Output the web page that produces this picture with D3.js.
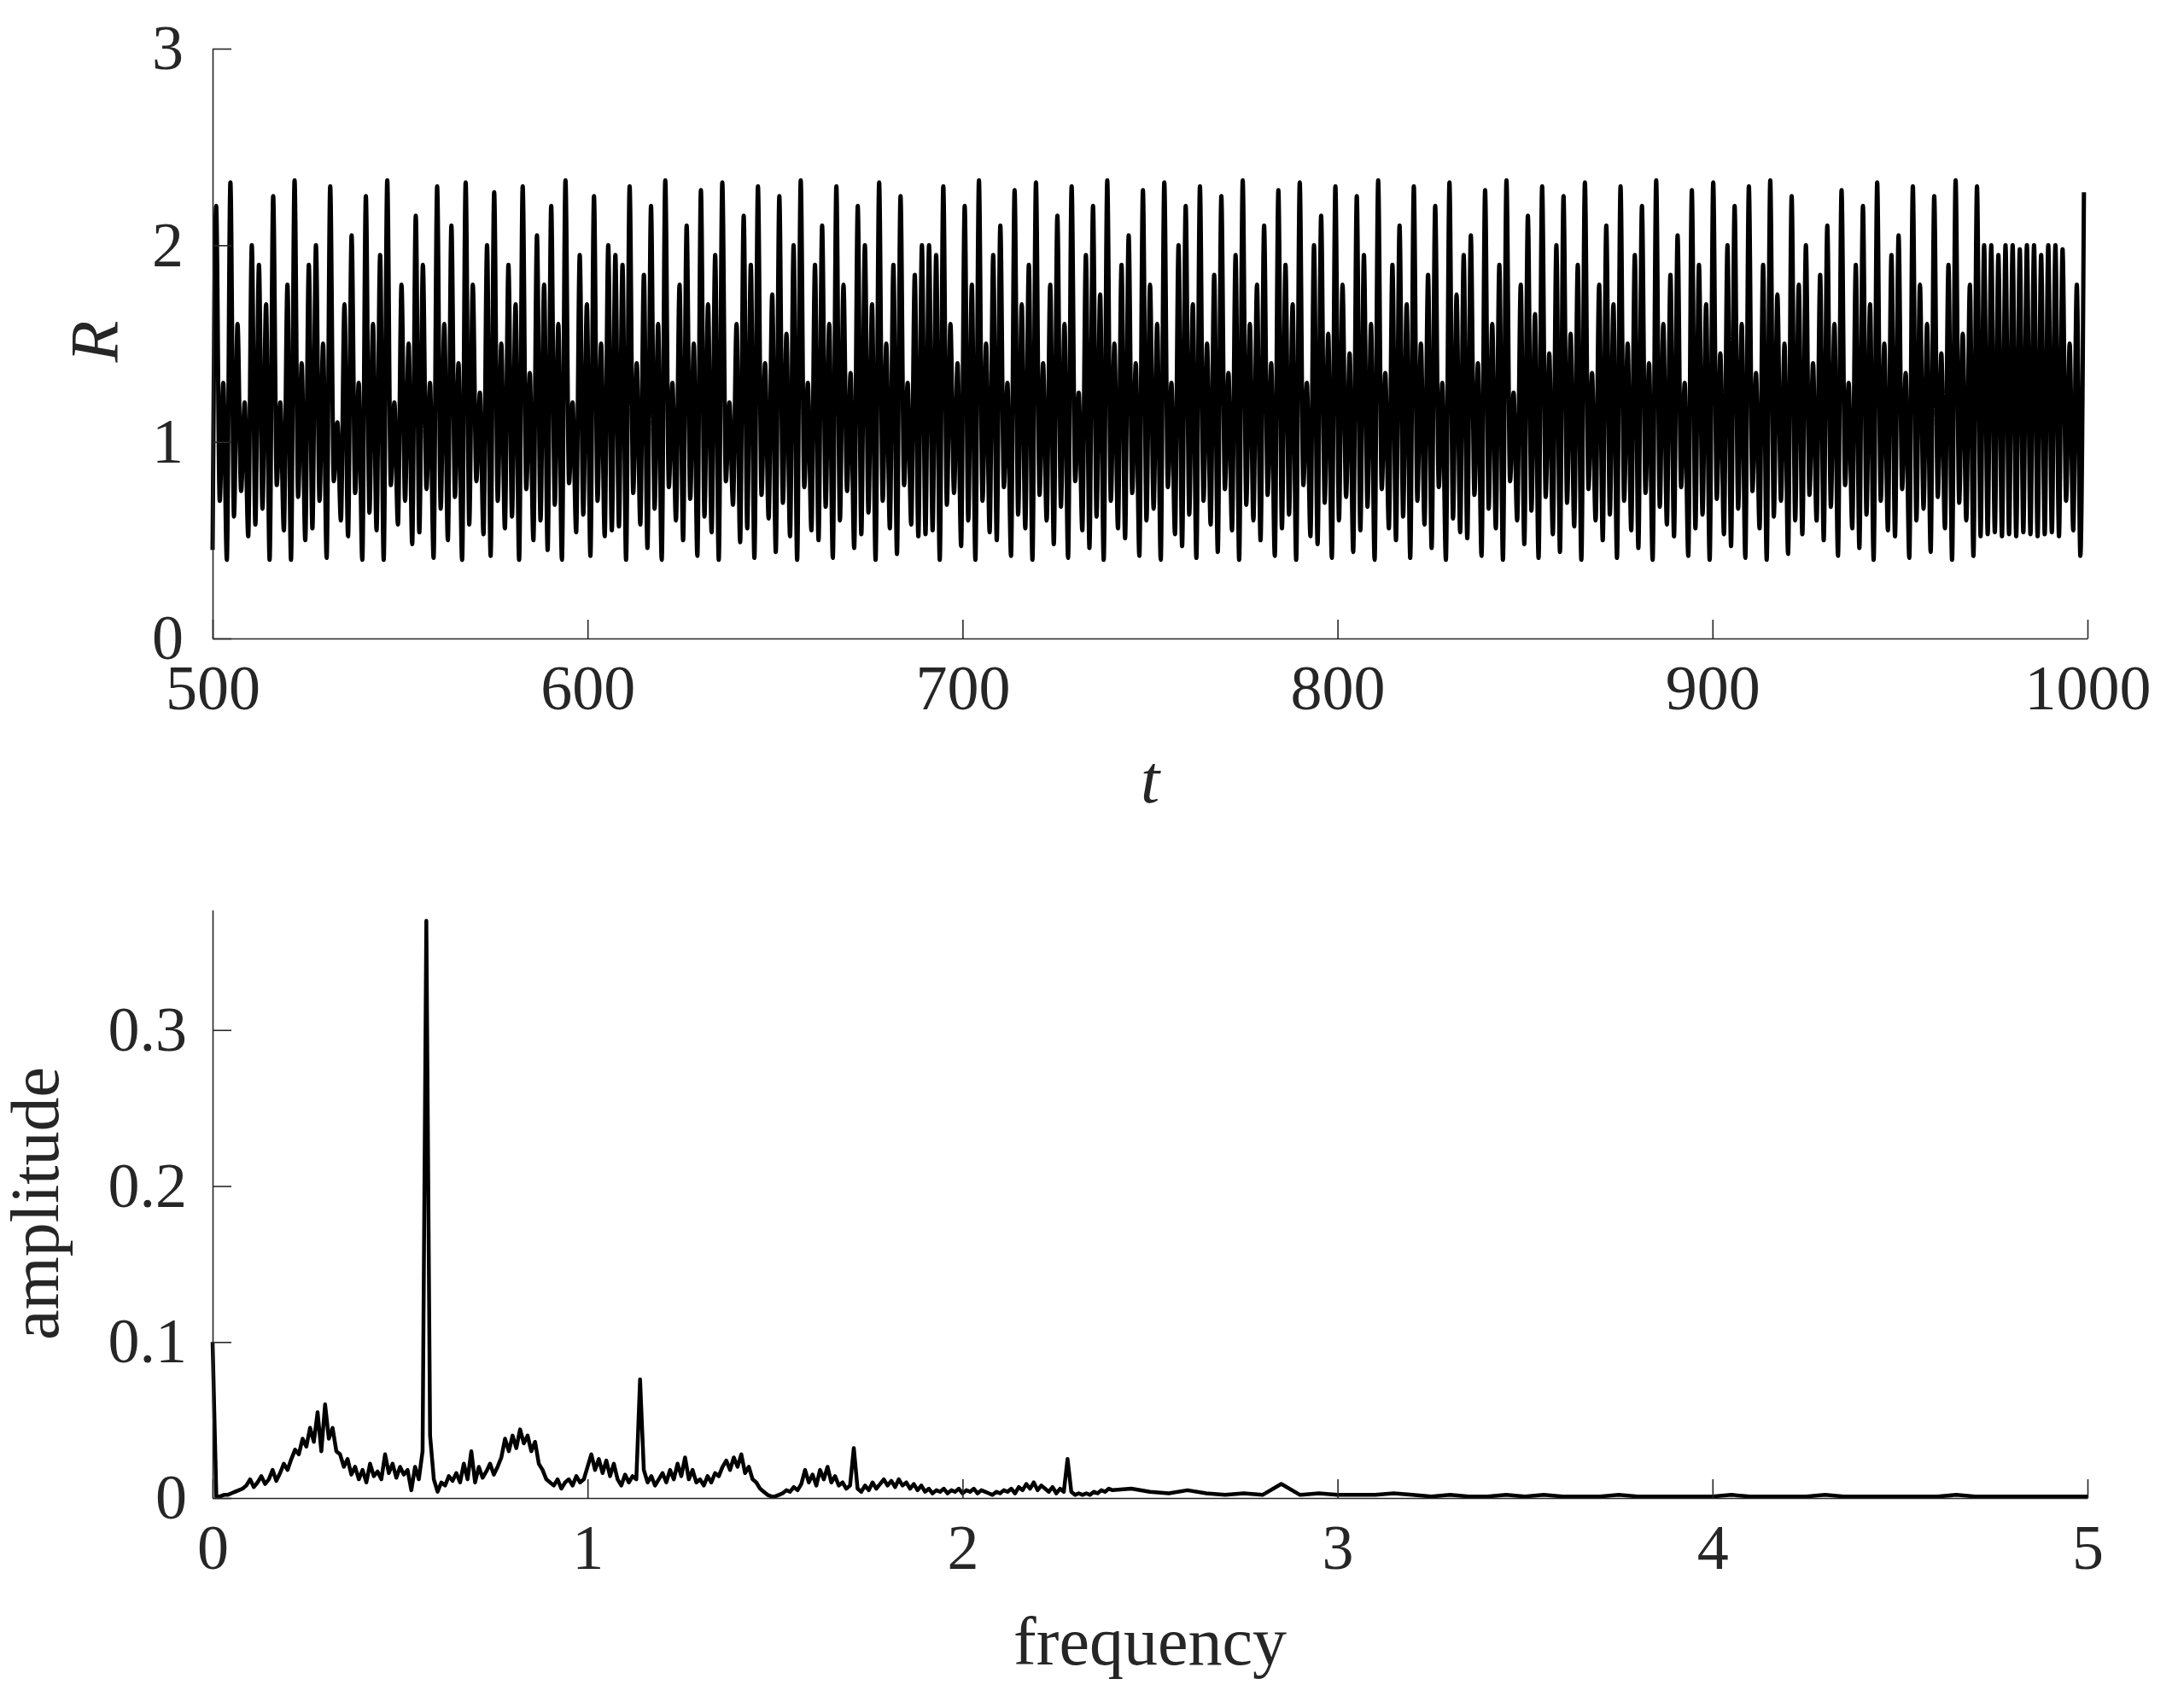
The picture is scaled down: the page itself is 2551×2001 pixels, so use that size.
<!DOCTYPE html>
<html>
<head>
<meta charset="utf-8">
<script src="https://cdn.jsdelivr.net/npm/d3@7"></script>
<style>
  body { margin: 0; background: #fff; }
  text { font-family: "Liberation Serif", "DejaVu Serif", serif; fill: #262626; }
</style>
</head>
<body>
<svg id="chart" width="2551" height="2001"></svg>
<script>
// time series: successive maxima and minima of R, t from 500 to 1000
const peaks = [
  2.2,1.3,2.32,1.6,1.2,2.0,1.9,1.7,2.25,1.2,1.8,2.33,
  1.4,1.9,2.0,1.5,2.3,1.1,1.7,2.05,1.3,2.25,1.6,1.95,
  2.33,1.2,1.8,1.5,2.15,1.9,1.3,2.3,1.6,2.1,1.4,2.32,
  1.8,1.25,2.0,2.27,1.5,1.9,1.7,2.3,1.35,2.05,1.8,2.2,
  1.6,2.33,1.2,1.95,1.7,2.25,1.5,2.0,1.95,1.9,2.3,1.4,
  1.85,2.2,1.6,2.33,1.3,1.8,2.1,1.5,2.28,1.7,1.95,2.32,
  1.2,1.6,2.15,1.9,2.3,1.4,1.75,2.25,1.55,2.0,2.33,1.3,
  1.9,2.1,1.6,2.3,1.8,1.35,2.2,2.0,1.7,2.32,1.5,1.9,
  2.25,1.3,1.85,2.0,2.0,1.95,2.3,1.6,1.4,2.2,1.8,2.33,
  1.5,1.95,2.1,1.3,2.28,1.7,1.9,2.32,1.4,1.8,2.15,1.6,
  2.3,1.25,1.95,2.2,1.75,2.33,1.5,1.9,2.05,1.4,2.28,1.8,
  1.6,2.32,1.3,2.0,2.2,1.7,2.3,1.5,1.85,2.25,1.35,1.95,
  2.33,1.6,1.8,2.1,1.4,2.28,1.9,1.7,2.32,1.3,2.0,2.15,
  1.55,2.3,1.8,1.45,2.25,1.95,1.6,2.33,1.35,1.9,2.1,1.7,
  2.3,1.5,1.85,2.2,1.3,2.32,1.75,1.95,2.05,1.4,2.28,1.6,
  1.9,2.33,1.25,1.8,2.15,1.65,2.3,1.45,2.0,2.25,1.55,1.9,
  2.32,1.35,1.8,2.1,1.7,2.3,1.5,1.95,2.2,1.4,2.33,1.6,
  1.85,2.05,1.3,2.28,1.9,1.7,2.32,1.45,2.0,2.2,1.6,2.3,
  1.35,1.9,2.33,1.75,1.5,2.25,1.8,2.0,
  1.4,1.85,2.1,1.6,2.28,1.3,1.9,2.2,1.7,2.32,1.5,1.95,
  2.05,1.35,2.3,1.8,1.6,2.25,1.45,1.9,2.33,1.55,1.8,2.3,
  2.0,2.0,1.95,2.0,2.0,1.98,2.0,2.0,1.95,2.0,2.0,1.98,
  1.5,1.8,2.27
];
const troughs = [
  0.45,0.7,0.4,0.62,0.75,0.52,0.58,0.66,0.4,0.78,0.55,0.4,
  0.72,0.5,0.56,0.7,0.41,0.8,0.6,0.52,0.74,0.4,0.64,0.55,
  0.4,0.78,0.58,0.7,0.48,0.54,0.76,0.41,0.66,0.5,0.72,0.4,
  0.58,0.8,0.53,0.42,0.7,0.56,0.62,0.4,0.76,0.5,0.6,0.45,
  0.68,0.4,0.79,0.54,0.63,0.42,0.7,0.52,0.55,0.57,0.4,0.74,
  0.58,0.46,0.66,0.4,0.77,0.6,0.5,0.71,0.42,0.62,0.54,0.4,
  0.8,0.68,0.49,0.56,0.41,0.73,0.61,0.44,0.69,0.52,0.4,0.77,
  0.55,0.5,0.67,0.41,0.6,0.75,0.46,0.53,0.64,0.4,0.7,0.56,
  0.43,0.78,0.58,0.52,0.53,0.55,0.4,0.68,0.74,0.47,0.6,0.4,
  0.7,0.54,0.5,0.77,0.42,0.63,0.56,0.4,0.73,0.6,0.48,0.67,
  0.41,0.8,0.55,0.46,0.62,0.4,0.7,0.56,0.51,0.74,0.42,0.6,
  0.66,0.4,0.77,0.53,0.47,0.63,0.41,0.7,0.58,0.44,0.76,0.55,
  0.4,0.68,0.6,0.5,0.73,0.42,0.56,0.63,0.4,0.78,0.52,0.48,
  0.69,0.41,0.6,0.72,0.44,0.55,0.67,0.4,0.76,0.56,0.5,0.62,
  0.41,0.7,0.58,0.46,0.77,0.4,0.61,0.54,0.51,0.73,0.42,0.66,
  0.56,0.4,0.8,0.6,0.48,0.65,0.41,0.72,0.53,0.44,0.69,0.57,
  0.4,0.76,0.6,0.5,0.63,0.41,0.7,0.55,0.46,0.74,0.4,0.67,
  0.58,0.52,0.77,0.42,0.56,0.63,0.4,0.71,0.53,0.47,0.66,0.41,
  0.75,0.56,0.4,0.62,0.7,0.43,0.6,0.53,
  0.73,0.6,0.5,0.67,0.42,0.78,0.56,0.46,0.63,0.4,0.7,0.55,
  0.52,0.76,0.41,0.6,0.66,0.44,0.72,0.56,0.4,0.69,0.6,0.42,
  0.52,0.53,0.54,0.52,0.53,0.52,0.54,0.53,0.52,0.53,0.54,0.52,
  0.7,0.55,0.42
];

// amplitude spectrum: 0.00..2.40 step 0.01, then 2.45..5.00 step 0.05
const ampFine = [
  0.100,0.001,0.001,0.002,0.002,0.003,0.004,0.005,0.006,0.008,0.012,
  0.007,0.010,0.014,0.009,0.012,0.018,0.011,0.016,0.022,0.018,
  0.025,0.031,0.028,0.038,0.033,0.045,0.036,0.055,0.030,0.060,
  0.038,0.045,0.030,0.028,0.020,0.025,0.015,0.020,0.012,0.018,
  0.010,0.022,0.014,0.017,0.012,0.028,0.016,0.022,0.013,0.020,
  0.015,0.018,0.005,0.020,0.012,0.030,0.370,0.040,0.012,0.004,
  0.010,0.008,0.014,0.011,0.016,0.010,0.022,0.012,0.030,0.010,
  0.020,0.013,0.017,0.022,0.015,0.020,0.026,0.038,0.030,0.040,
  0.032,0.044,0.035,0.040,0.030,0.036,0.022,0.018,0.012,0.010,
  0.008,0.012,0.006,0.010,0.012,0.008,0.014,0.010,0.012,0.020,
  0.028,0.018,0.025,0.016,0.024,0.014,0.022,0.012,0.008,0.015,
  0.010,0.014,0.012,0.076,0.018,0.010,0.014,0.008,0.012,0.016,
  0.010,0.018,0.012,0.022,0.014,0.026,0.012,0.018,0.010,0.012,
  0.008,0.014,0.010,0.016,0.014,0.020,0.024,0.018,0.026,0.020,
  0.028,0.016,0.020,0.012,0.010,0.006,0.004,0.002,0.001,0.001,
  0.002,0.003,0.005,0.004,0.007,0.005,0.009,0.018,0.010,0.015,
  0.008,0.018,0.012,0.020,0.010,0.014,0.008,0.010,0.006,0.008,
  0.032,0.006,0.004,0.008,0.005,0.010,0.006,0.009,0.012,0.008,
  0.011,0.007,0.012,0.008,0.010,0.006,0.009,0.005,0.008,0.004,
  0.006,0.003,0.005,0.004,0.006,0.003,0.005,0.004,0.006,0.003,
  0.005,0.004,0.006,0.003,0.005,0.004,0.003,0.002,0.004,0.003,
  0.005,0.004,0.006,0.003,0.007,0.005,0.009,0.006,0.010,0.005,
  0.008,0.006,0.004,0.007,0.003,0.006,0.004,0.025,0.004,0.002,
  0.003,0.002,0.003,0.002,0.004,0.003,0.005,0.004,0.006,0.005
];
const ampCoarse = [
  0.006,0.004,0.003,0.005,0.003,0.002,0.003,0.002,0.009,0.002,
  0.003,0.002,0.002,0.002,0.003,0.002,0.001,0.002,0.001,0.001,
  0.002,0.001,0.002,0.001,0.001,0.001,0.002,0.001,0.001,0.001,
  0.001,0.001,0.002,0.001,0.001,0.001,0.001,0.002,0.001,0.001,
  0.001,0.001,0.001,0.001,0.002,0.001,0.001,0.001,0.001,0.001,
  0.001,0.001
];

const rTicks = [0, 1, 2, 3];
const tTicks = [500, 600, 700, 800, 900, 1000];
const aTicks = [0, 0.1, 0.2, 0.3];
const fTicks = [0, 1, 2, 3, 4, 5];

const svg = d3.select("#chart");
const left = 249, right = 2445;

function styleAxis(g) {
  g.select(".domain").attr("stroke", "#262626").attr("stroke-width", 1.6);
  g.selectAll(".tick line").attr("stroke", "#262626").attr("stroke-width", 1.6);
  g.selectAll(".tick text").style("font-size", "74px").attr("fill", "#262626");
}

// ---- top panel
const x1 = d3.scaleLinear().domain([500, 1000]).range([left, right]);
const y1 = d3.scaleLinear().domain([0, 3]).range([748, 57]);
const idx = d3.scaleLinear().domain([0, peaks.length * 2]).range([500, 1000]);

let series = [];
peaks.forEach((p, i) => {
  series.push([idx(2 * i), troughs[i]]);
  series.push([idx(2 * i + 1), p]);
});

svg.append("path")
  .attr("d", d3.line().x(d => x1(d[0])).y(d => y1(d[1])).curve(d3.curveMonotoneX)(series))
  .attr("fill", "none").attr("stroke", "#000").attr("stroke-width", 5).attr("stroke-linejoin", "round");

svg.append("g").attr("transform", "translate(0,748)")
  .call(d3.axisBottom(x1).tickValues(tTicks).tickFormat(d3.format("d")).tickSize(-22).tickPadding(30).tickSizeOuter(0))
  .call(styleAxis);
svg.append("g").attr("transform", `translate(${left},0)`)
  .call(d3.axisLeft(y1).tickValues(rTicks).tickFormat(d3.format("d")).tickSize(-22).tickPadding(34).tickSizeOuter(0))
  .call(styleAxis);

svg.append("text").attr("x", (left + right) / 2).attr("y", 940)
  .attr("text-anchor", "middle").style("font-size", "80px").style("font-style", "italic").text("t");
svg.append("text").attr("transform", "translate(138,400) rotate(-90)")
  .attr("text-anchor", "middle").style("font-size", "80px").style("font-style", "italic").text("R");

// ---- bottom panel
const x2 = d3.scaleLinear().domain([0, 5]).range([left, right]);
const y2 = d3.scaleLinear().domain([0, 0.377]).range([1755, 1066]);

let spec = ampFine.map((a, i) => [i / 100, a]);
ampCoarse.forEach((a, i) => spec.push([2.45 + i * 0.05, a]));

svg.append("path")
  .attr("d", d3.line().x(d => x2(d[0])).y(d => y2(d[1]))(spec))
  .attr("fill", "none").attr("stroke", "#000").attr("stroke-width", 4.5).attr("stroke-linejoin", "round");

svg.append("g").attr("transform", "translate(0,1755)")
  .call(d3.axisBottom(x2).tickValues(fTicks).tickFormat(d3.format("d")).tickSize(-22).tickPadding(30).tickSizeOuter(0))
  .call(styleAxis);
svg.append("g").attr("transform", `translate(${left},0)`)
  .call(d3.axisLeft(y2).tickValues(aTicks).tickFormat(d => d === 0 ? "0" : d3.format(".1f")(d)).tickSize(-22).tickPadding(30).tickSizeOuter(0))
  .call(styleAxis);

svg.append("text").attr("x", (left + right) / 2).attr("y", 1950)
  .attr("text-anchor", "middle").style("font-size", "80px").text("frequency");
svg.append("text").attr("transform", "translate(68,1410) rotate(-90)")
  .attr("text-anchor", "middle").style("font-size", "80px").text("amplitude");
</script>
</body>
</html>
